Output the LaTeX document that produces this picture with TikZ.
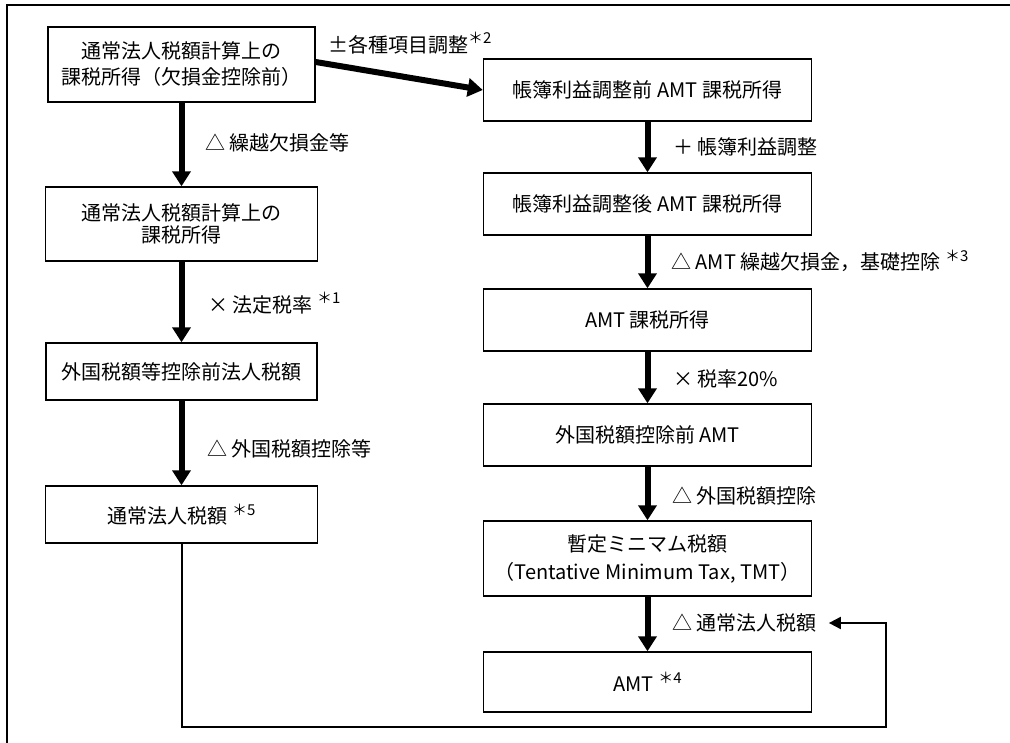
\documentclass[tikz,border=0pt]{standalone}
\usepackage{fontspec}
\setmainfont{Noto Sans CJK JP}
\usetikzlibrary{arrows.meta}
\newcommand\fnmark[1]{\raisebox{0.42em}{\fontsize{15}{15}\selectfont ＊#1}}
\begin{document}
\begin{tikzpicture}[x=1pt,y=-1pt,
  box/.style={draw,line width=1.4pt,inner sep=0pt,align=center,font=\fontsize{20}{26}\selectfont},
  lab/.style={anchor=west,inner sep=0pt,font=\fontsize{20}{24}\selectfont},
  bigarrow/.style={line width=6pt,-{Triangle[width=18pt,length=15pt]}},
  thinarrow/.style={line width=2pt,-{Triangle[width=12pt,length=12pt]}}]
\useasboundingbox (0,0) rectangle (1010,743);
\fill[white] (0,0) rectangle (1010,743);
% outer frame (only top and left edges visible)
\draw[line width=1.5pt] (7,743) -- (7,5) -- (1010,5);
% left column
\node[box,minimum width=267pt,minimum height=75pt] (L1) at (181.5,64.5) {通常法人税額計算上の\\課税所得（欠損金控除前）};
\node[box,minimum width=272pt,minimum height=74pt,font=\fontsize{20}{22}\selectfont] (L2) at (181.5,224) {通常法人税額計算上の\\課税所得};
\node[box,minimum width=271pt,minimum height=57pt] (L3) at (181.5,371.5) {外国税額等控除前法人税額};
\node[box,minimum width=272pt,minimum height=57pt] (L4) at (181.5,514.5) {通常法人税額 \fnmark{5}};
% right column
\node[box,minimum width=328pt,minimum height=62pt] (R1) at (647.5,90) {帳簿利益調整前 AMT 課税所得};
\node[box,minimum width=328pt,minimum height=62pt] (R2) at (647.5,204) {帳簿利益調整後 AMT 課税所得};
\node[box,minimum width=328pt,minimum height=62pt] (R3) at (647.5,320) {AMT 課税所得};
\node[box,minimum width=328pt,minimum height=62pt] (R4) at (647.5,435) {外国税額控除前 AMT};
\node[box,minimum width=328pt,minimum height=75pt,font=\fontsize{20}{28}\selectfont] (R5) at (647.5,558.5) {暫定ミニマム税額\\（Tentative Minimum Tax, TMT）};
\node[box,minimum width=328pt,minimum height=60pt] (R6) at (647.5,682) {AMT \fnmark{4}};
% labels
\node[lab] (a1) at (205,143) {△ 繰越欠損金等};
\node[lab] (a2) at (208,303) {× 法定税率 \fnmark{1}};
\node[lab] (a3) at (207,449) {△ 外国税額控除等};
\node[lab] (ad) at (328,43) {±各種項目調整\fnmark{2}};
\node[lab] (b1) at (673,147) {＋ 帳簿利益調整};
\node[lab] (b2) at (671,261) {△ AMT 繰越欠損金，基礎控除 \fnmark{3}};
\node[lab] (b3) at (673,379) {× 税率20\%};
\node[lab] (b4) at (672,496) {△ 外国税額控除};
\node[lab] (b5) at (672,623) {△ 通常法人税額};
% arrows
\draw[bigarrow] (L1.south) -- (L2.north);
\draw[bigarrow] (L2.south) -- (L3.north);
\draw[bigarrow] (L3.south) -- (L4.north);
\draw[bigarrow] ([yshift=2.5pt]L1.east) -- (R1.west);
\draw[bigarrow] (R1.south) -- (R2.north);
\draw[bigarrow] (R2.south) -- (R3.north);
\draw[bigarrow] (R3.south) -- (R4.north);
\draw[bigarrow] (R4.south) -- (R5.north);
\draw[bigarrow] (R5.south) -- (R6.north);
% feedback
\coordinate (fb) at (886,727);
\draw[thinarrow] (L4.south) |- (fb) |- ([xshift=12pt]b5.east);
\end{tikzpicture}
\end{document}
